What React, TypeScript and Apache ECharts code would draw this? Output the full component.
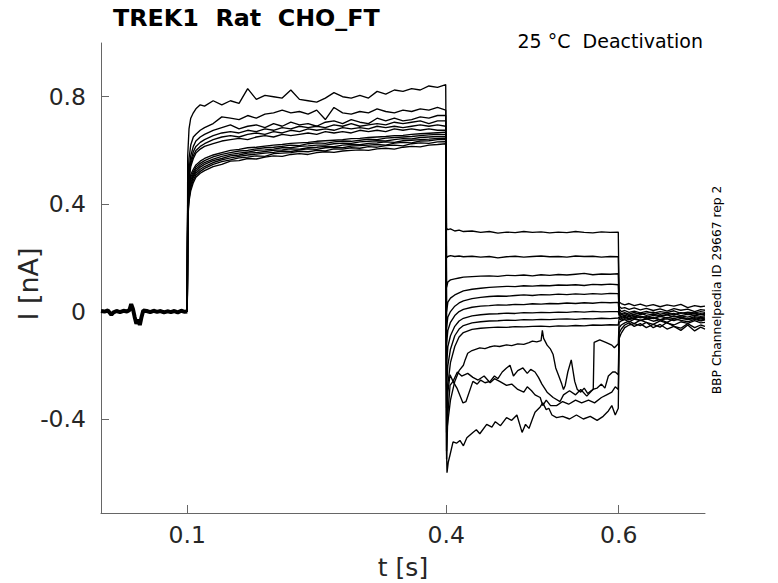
import React, { useEffect, useRef } from 'react';
import * as echarts from 'echarts';

const FONT = '"DejaVu Sans", sans-serif';

// tick positions
const xTicks = [0.1, 0.4, 0.6];
const yTicks = [-0.4, 0, 0.4, 0.8];

// holding period before the step, all sweeps overlap here (t [s], I [nA])
const baseline = [
  [0.0, 0.002], [0.004, 0.0], [0.008, 0.004], [0.012, -0.012], [0.014, -0.004], [0.018, 0.002],
  [0.022, -0.002], [0.026, 0.003], [0.03, 0.0], [0.033, 0.006], [0.035, 0.028], [0.037, 0.01],
  [0.039, -0.02], [0.041, -0.045], [0.043, -0.03], [0.045, -0.05], [0.047, -0.02], [0.049, 0.004],
  [0.053, 0.002], [0.057, -0.002], [0.061, 0.003], [0.065, -0.001], [0.069, 0.002], [0.073, -0.003],
  [0.077, 0.001], [0.081, -0.002], [0.085, 0.002], [0.089, -0.003], [0.093, 0.003], [0.097, -0.001],
  [0.1, 0.0],
];

// activating step 0.1 - 0.4 s
const tOn = [
  0.1, 0.1005, 0.102, 0.104, 0.107, 0.11, 0.115, 0.12, 0.13, 0.14, 0.15, 0.16, 0.17, 0.18, 0.19, 0.2,
  0.21, 0.22, 0.23, 0.24, 0.25, 0.26, 0.27, 0.28, 0.29, 0.3, 0.31, 0.32, 0.33, 0.34, 0.35, 0.36, 0.37,
  0.38, 0.39, 0.3995,
];

const onCurrents = [
  [0, 0.58, 0.68, 0.72, 0.74, 0.755, 0.77, 0.765, 0.785, 0.77, 0.785, 0.775, 0.83, 0.79, 0.805, 0.8, 0.795, 0.825, 0.79, 0.785, 0.78, 0.795, 0.815, 0.8, 0.795, 0.805, 0.795, 0.82, 0.81, 0.825, 0.82, 0.83, 0.825, 0.84, 0.835, 0.845],
  [0, 0.48, 0.57, 0.62, 0.65, 0.66, 0.675, 0.685, 0.7, 0.725, 0.72, 0.715, 0.73, 0.72, 0.735, 0.74, 0.75, 0.74, 0.745, 0.735, 0.75, 0.715, 0.76, 0.74, 0.735, 0.745, 0.74, 0.755, 0.745, 0.74, 0.75, 0.745, 0.755, 0.75, 0.76, 0.75],
  [0, 0.45, 0.53, 0.58, 0.615, 0.635, 0.65, 0.66, 0.675, 0.685, 0.695, 0.68, 0.69, 0.695, 0.685, 0.7, 0.69, 0.705, 0.695, 0.7, 0.69, 0.705, 0.71, 0.7, 0.715, 0.705, 0.7, 0.72, 0.71, 0.72, 0.71, 0.715, 0.725, 0.72, 0.73, 0.73],
  [0, 0.44, 0.51, 0.56, 0.595, 0.615, 0.63, 0.64, 0.655, 0.665, 0.67, 0.665, 0.675, 0.67, 0.68, 0.675, 0.685, 0.68, 0.69, 0.685, 0.69, 0.685, 0.695, 0.69, 0.7, 0.69, 0.695, 0.7, 0.695, 0.705, 0.7, 0.705, 0.71, 0.7, 0.71, 0.71],
  [0, 0.43, 0.5, 0.55, 0.58, 0.6, 0.615, 0.625, 0.64, 0.65, 0.655, 0.65, 0.66, 0.665, 0.66, 0.67, 0.665, 0.675, 0.67, 0.68, 0.675, 0.68, 0.675, 0.685, 0.68, 0.685, 0.68, 0.69, 0.685, 0.69, 0.685, 0.69, 0.695, 0.69, 0.695, 0.69],
  [0, 0.42, 0.49, 0.54, 0.57, 0.59, 0.605, 0.615, 0.625, 0.635, 0.64, 0.645, 0.64, 0.65, 0.655, 0.65, 0.66, 0.655, 0.66, 0.665, 0.66, 0.67, 0.665, 0.67, 0.665, 0.675, 0.67, 0.675, 0.67, 0.68, 0.675, 0.68, 0.675, 0.68, 0.675, 0.675],
  [0, 0.34, 0.41, 0.45, 0.48, 0.5, 0.515, 0.525, 0.54, 0.548, 0.56, 0.562, 0.57, 0.568, 0.575, 0.58, 0.578, 0.585, 0.588, 0.585, 0.592, 0.595, 0.593, 0.598, 0.6, 0.602, 0.6, 0.606, 0.608, 0.605, 0.612, 0.615, 0.613, 0.62, 0.622, 0.625],
  [0, 0.35, 0.42, 0.46, 0.49, 0.508, 0.522, 0.533, 0.548, 0.558, 0.565, 0.572, 0.575, 0.58, 0.578, 0.588, 0.59, 0.592, 0.597, 0.595, 0.6, 0.598, 0.606, 0.605, 0.61, 0.608, 0.614, 0.612, 0.618, 0.62, 0.617, 0.625, 0.628, 0.626, 0.632, 0.633],
  [0, 0.36, 0.43, 0.47, 0.5, 0.515, 0.53, 0.54, 0.555, 0.565, 0.572, 0.578, 0.583, 0.586, 0.59, 0.593, 0.598, 0.596, 0.602, 0.606, 0.604, 0.61, 0.612, 0.61, 0.616, 0.618, 0.62, 0.622, 0.62, 0.627, 0.63, 0.628, 0.635, 0.636, 0.64, 0.64],
  [0, 0.37, 0.44, 0.48, 0.505, 0.522, 0.538, 0.548, 0.562, 0.57, 0.58, 0.583, 0.59, 0.592, 0.596, 0.6, 0.602, 0.606, 0.605, 0.61, 0.612, 0.615, 0.614, 0.62, 0.622, 0.621, 0.626, 0.628, 0.632, 0.63, 0.636, 0.638, 0.64, 0.642, 0.645, 0.646],
  [0, 0.38, 0.45, 0.49, 0.512, 0.53, 0.545, 0.555, 0.568, 0.578, 0.585, 0.59, 0.594, 0.6, 0.602, 0.605, 0.61, 0.61, 0.615, 0.617, 0.62, 0.62, 0.625, 0.627, 0.626, 0.632, 0.634, 0.636, 0.635, 0.64, 0.644, 0.643, 0.648, 0.65, 0.652, 0.652],
  [0, 0.39, 0.46, 0.5, 0.52, 0.538, 0.552, 0.562, 0.576, 0.585, 0.592, 0.598, 0.6, 0.606, 0.61, 0.612, 0.615, 0.62, 0.618, 0.625, 0.628, 0.626, 0.632, 0.635, 0.634, 0.638, 0.642, 0.64, 0.646, 0.648, 0.65, 0.652, 0.655, 0.658, 0.66, 0.66],
  [0, 0.4, 0.47, 0.51, 0.53, 0.546, 0.56, 0.57, 0.583, 0.592, 0.6, 0.604, 0.61, 0.612, 0.616, 0.62, 0.622, 0.626, 0.628, 0.63, 0.634, 0.636, 0.638, 0.64, 0.644, 0.645, 0.648, 0.65, 0.652, 0.655, 0.656, 0.66, 0.662, 0.664, 0.666, 0.668],
];

// test pulses 0.4 - 0.6 s, the nine smooth sweeps
const tTail = [
  0.4005, 0.402, 0.405, 0.41, 0.415, 0.42, 0.43, 0.44, 0.45, 0.46, 0.47, 0.48, 0.49, 0.5, 0.51, 0.52,
  0.53, 0.54, 0.55, 0.56, 0.57, 0.58, 0.59, 0.5995,
];

const tailFlat = [
  [0.31, 0.305, 0.308, 0.3, 0.303, 0.298, 0.3, 0.295, 0.298, 0.292, 0.296, 0.294, 0.298, 0.295, 0.297, 0.293, 0.296, 0.294, 0.298, 0.295, 0.293, 0.297, 0.295, 0.296],
  [0.2, 0.205, 0.208, 0.205, 0.207, 0.204, 0.206, 0.203, 0.205, 0.2, 0.204, 0.206, 0.203, 0.205, 0.207, 0.204, 0.205, 0.203, 0.207, 0.205, 0.206, 0.203, 0.205, 0.204],
  [0.09, 0.11, 0.118, 0.122, 0.125, 0.128, 0.13, 0.132, 0.133, 0.131, 0.135, 0.134, 0.136, 0.133, 0.137, 0.135, 0.138, 0.136, 0.139, 0.142, 0.137, 0.14, 0.139, 0.141],
  [0.0, 0.035, 0.05, 0.062, 0.07, 0.077, 0.083, 0.087, 0.09, 0.092, 0.094, 0.093, 0.096, 0.095, 0.097, 0.096, 0.099, 0.098, 0.1, 0.097, 0.101, 0.1, 0.102, 0.1],
  [-0.06, -0.02, 0.0, 0.02, 0.032, 0.04, 0.048, 0.053, 0.056, 0.058, 0.057, 0.06, 0.062, 0.06, 0.063, 0.062, 0.065, 0.063, 0.066, 0.064, 0.067, 0.065, 0.068, 0.067],
  [-0.12, -0.07, -0.04, -0.015, 0.0, 0.008, 0.016, 0.02, 0.022, 0.025, 0.024, 0.027, 0.026, 0.029, 0.028, 0.03, 0.029, 0.032, 0.03, 0.033, 0.031, 0.034, 0.033, 0.034],
  [-0.2, -0.13, -0.09, -0.055, -0.035, -0.025, -0.016, -0.012, -0.009, -0.008, -0.006, -0.007, -0.004, -0.005, -0.003, -0.004, -0.002, -0.003, 0.0, -0.002, 0.001, -0.001, 0.0, 0.0],
  [-0.28, -0.2, -0.14, -0.09, -0.065, -0.052, -0.042, -0.038, -0.035, -0.034, -0.032, -0.033, -0.03, -0.031, -0.029, -0.03, -0.028, -0.027, -0.029, -0.026, -0.027, -0.025, -0.026, -0.024],
  [-0.36, -0.27, -0.19, -0.13, -0.095, -0.078, -0.066, -0.062, -0.06, -0.058, -0.059, -0.056, -0.057, -0.055, -0.054, -0.056, -0.053, -0.054, -0.052, -0.053, -0.05, -0.051, -0.049, -0.05],
];

// the four noisy inward sweeps, read point by point
const tailA = [
  [0.4005, -0.45], [0.405, -0.33], [0.41, -0.26], [0.415, -0.22], [0.42, -0.2], [0.422, -0.18],
  [0.425, -0.155], [0.43, -0.145], [0.439, -0.135], [0.445, -0.138], [0.45, -0.132], [0.456, -0.128],
  [0.462, -0.13], [0.47, -0.124], [0.476, -0.127], [0.483, -0.12], [0.49, -0.122], [0.496, -0.116],
  [0.5, -0.11], [0.505, -0.113], [0.51, -0.108], [0.5115, -0.07], [0.513, -0.1], [0.517, -0.125],
  [0.521, -0.14], [0.524, -0.16], [0.527, -0.21], [0.53, -0.235], [0.534, -0.27], [0.536, -0.29],
  [0.538, -0.275], [0.541, -0.225], [0.545, -0.18], [0.547, -0.22], [0.549, -0.26], [0.552, -0.29],
  [0.556, -0.3], [0.56, -0.285], [0.564, -0.305], [0.568, -0.295], [0.5705, -0.29], [0.5715, -0.115],
  [0.578, -0.105], [0.585, -0.115], [0.592, -0.125], [0.595, -0.135], [0.5995, -0.12],
];

const tailB = [
  [0.4005, -0.52], [0.402, -0.3], [0.4045, -0.235], [0.408, -0.26], [0.4125, -0.285], [0.4195, -0.34],
  [0.423, -0.335], [0.431, -0.26], [0.436, -0.27], [0.44, -0.255], [0.445, -0.265], [0.451, -0.26],
  [0.456, -0.24], [0.46, -0.25], [0.465, -0.225], [0.47, -0.21], [0.474, -0.2], [0.478, -0.24],
  [0.483, -0.22], [0.489, -0.21], [0.494, -0.23], [0.498, -0.215], [0.503, -0.225], [0.507, -0.245],
  [0.511, -0.27], [0.517, -0.3], [0.524, -0.32], [0.532, -0.335], [0.536, -0.31], [0.543, -0.295],
  [0.55, -0.31], [0.556, -0.29], [0.563, -0.315], [0.57, -0.29], [0.575, -0.285], [0.58, -0.27],
  [0.584, -0.285], [0.588, -0.24], [0.593, -0.225], [0.596, -0.225], [0.5995, -0.235],
];

const tailC = [
  [0.4005, -0.55], [0.402, -0.38], [0.4045, -0.275], [0.408, -0.26], [0.413, -0.225], [0.418, -0.24],
  [0.425, -0.23], [0.431, -0.245], [0.437, -0.255], [0.444, -0.24], [0.451, -0.265], [0.456, -0.25],
  [0.462, -0.26], [0.47, -0.275], [0.476, -0.27], [0.483, -0.29], [0.49, -0.3], [0.494, -0.28],
  [0.499, -0.295], [0.503, -0.31], [0.509, -0.32], [0.512, -0.35], [0.516, -0.33], [0.521, -0.35],
  [0.528, -0.35], [0.535, -0.335], [0.542, -0.345], [0.55, -0.33], [0.557, -0.34], [0.565, -0.33],
  [0.572, -0.34], [0.58, -0.32], [0.586, -0.31], [0.592, -0.3], [0.596, -0.28], [0.5995, -0.29],
];

const tailD = [
  [0.4005, -0.52], [0.401, -0.6], [0.4025, -0.56], [0.4044, -0.535], [0.408, -0.485], [0.412, -0.49],
  [0.416, -0.48], [0.42, -0.5], [0.424, -0.47], [0.431, -0.45], [0.435, -0.44], [0.439, -0.455],
  [0.447, -0.42], [0.453, -0.43], [0.457, -0.41], [0.463, -0.425], [0.47, -0.395], [0.476, -0.405],
  [0.482, -0.385], [0.488, -0.45], [0.492, -0.42], [0.496, -0.435], [0.5, -0.4], [0.503, -0.375],
  [0.509, -0.355], [0.512, -0.34], [0.516, -0.365], [0.519, -0.36], [0.5226, -0.385], [0.528, -0.395],
  [0.535, -0.39], [0.543, -0.4], [0.551, -0.385], [0.559, -0.4], [0.567, -0.39], [0.575, -0.405],
  [0.582, -0.39], [0.588, -0.37], [0.592, -0.35], [0.596, -0.385], [0.5995, -0.36],
];

const tailNoisy = [tailA, tailB, tailC, tailD];

// return to holding, 0.6 - 0.7 s
const tOff = [
  0.6005, 0.603, 0.607, 0.612, 0.618, 0.625, 0.632, 0.64, 0.648, 0.656, 0.664, 0.672, 0.68, 0.688,
  0.695, 0.7,
];

const offCurrents = [
  [0.035, 0.03, 0.025, 0.03, 0.022, 0.028, 0.02, 0.026, 0.018, 0.025, 0.02, 0.027, 0.015, 0.022, 0.018, 0.02],
  [0.02, 0.012, 0.015, 0.008, 0.014, 0.006, 0.012, 0.004, 0.01, 0.002, 0.011, 0.005, 0.009, 0.0, 0.007, 0.005],
  [0.01, 0.0, 0.004, -0.003, 0.002, -0.005, 0.001, -0.006, 0.0, -0.004, 0.003, -0.007, -0.002, -0.005, 0.0, -0.003],
  [0.0, -0.008, -0.004, -0.01, -0.003, -0.011, -0.006, -0.002, -0.01, -0.005, -0.012, -0.004, -0.009, -0.006, -0.011, -0.007],
  [-0.005, -0.012, -0.008, -0.015, -0.01, -0.006, -0.014, -0.009, -0.016, -0.011, -0.007, -0.015, -0.01, -0.013, -0.008, -0.012],
  [-0.01, -0.018, -0.013, -0.02, -0.012, -0.017, -0.022, -0.014, -0.019, -0.012, -0.02, -0.016, -0.021, -0.013, -0.018, -0.015],
  [-0.015, -0.022, -0.018, -0.025, -0.017, -0.023, -0.019, -0.026, -0.018, -0.024, -0.016, -0.022, -0.027, -0.019, -0.023, -0.02],
  [-0.02, -0.026, -0.021, -0.028, -0.023, -0.019, -0.027, -0.024, -0.03, -0.022, -0.026, -0.02, -0.028, -0.023, -0.027, -0.024],
  [-0.025, -0.032, -0.026, -0.03, -0.024, -0.033, -0.028, -0.022, -0.031, -0.027, -0.034, -0.025, -0.03, -0.026, -0.032, -0.028],
  [-0.04, -0.035, -0.03, -0.038, -0.028, -0.034, -0.026, -0.036, -0.03, -0.04, -0.027, -0.033, -0.038, -0.029, -0.035, -0.031],
  [-0.06, -0.05, -0.042, -0.036, -0.045, -0.032, -0.04, -0.048, -0.035, -0.043, -0.05, -0.038, -0.044, -0.034, -0.042, -0.04],
  [-0.08, -0.065, -0.05, -0.042, -0.055, -0.045, -0.06, -0.048, -0.058, -0.04, -0.055, -0.062, -0.045, -0.06, -0.05, -0.055],
  [-0.1, -0.08, -0.06, -0.05, -0.045, -0.052, -0.04, -0.06, -0.048, -0.065, -0.055, -0.07, -0.05, -0.072, -0.058, -0.065],
];

function buildTrace(i: number): number[][] {
  const on = tOn.map((t, k) => [t, onCurrents[i][k]]);
  const tail =
    i < tailFlat.length
      ? tTail.map((t, k) => [t, tailFlat[i][k]])
      : tailNoisy[i - tailFlat.length];
  const off = tOff.map((t, k) => [t, offCurrents[i][k]]);
  return [...on, ...tail, ...off];
}

const AXIS_GREY = '#666666';
const LABEL_GREY = '#262626';

export default function App() {
  const chartRef = useRef<HTMLDivElement>(null);

  useEffect(() => {
    if (!chartRef.current) return;

    const chart = echarts.init(chartRef.current, undefined, { renderer: 'svg' });

    const traces = onCurrents.map((_, i) => ({
      type: 'line',
      data: buildTrace(i),
      symbol: 'none',
      showSymbol: false,
      silent: true,
      lineStyle: { color: '#000', width: 1.35 },
    }));

    const option = {
      animation: false,
      backgroundColor: '#fff',
      grid: { left: 101, right: 73, top: 43, bottom: 70 },
      xAxis: {
        type: 'value',
        min: 0,
        max: 0.7,
        axisLine: { show: true, onZero: false, lineStyle: { color: AXIS_GREY, width: 1 } },
        axisTick: { show: true, inside: true, length: 8, customValues: xTicks, lineStyle: { color: AXIS_GREY } },
        axisLabel: { customValues: xTicks, fontSize: 23.5, fontFamily: FONT, color: LABEL_GREY, margin: 10 },
        splitLine: { show: false },
      },
      yAxis: {
        type: 'value',
        min: -0.75,
        max: 1.0,
        axisLine: { show: true, onZero: false, lineStyle: { color: AXIS_GREY, width: 1 } },
        axisTick: { show: true, inside: true, length: 8, customValues: yTicks, lineStyle: { color: AXIS_GREY } },
        axisLabel: {
          customValues: yTicks,
          fontSize: 23.5,
          fontFamily: FONT,
          color: LABEL_GREY,
          margin: 15,
          formatter: (v: number) => String(v),
        },
        splitLine: { show: false },
      },
      graphic: [
        {
          type: 'text',
          x: 113,
          y: 18,
          style: { text: 'TREK1  Rat  CHO_FT', font: `bold 23.8px ${FONT}`, fill: '#000', align: 'left', verticalAlign: 'middle' },
        },
        {
          type: 'text',
          x: 703,
          y: 41,
          style: { text: '25 °C  Deactivation', font: `19px ${FONT}`, fill: '#000', align: 'right', verticalAlign: 'middle' },
        },
        {
          type: 'text',
          x: 717,
          y: 290,
          rotation: Math.PI / 2,
          style: { text: 'BBP Channelpedia ID 29667 rep 2', font: `12.3px ${FONT}`, fill: '#000', align: 'center', verticalAlign: 'middle' },
        },
        {
          type: 'text',
          x: 28,
          y: 284,
          rotation: Math.PI / 2,
          style: { text: 'I [nA]', font: `27px ${FONT}`, fill: LABEL_GREY, align: 'center', verticalAlign: 'middle' },
        },
        {
          type: 'text',
          x: 403,
          y: 567,
          style: { text: 't [s]', font: `25px ${FONT}`, fill: LABEL_GREY, align: 'center', verticalAlign: 'middle' },
        },
      ],
      series: [
        {
          type: 'line',
          data: baseline,
          symbol: 'none',
          showSymbol: false,
          silent: true,
          lineStyle: { color: '#000', width: 4 },
        },
        ...traces,
      ],
    };

    chart.setOption(option as any);

    return () => {
      chart.dispose();
    };
  }, []);

  return (
    <div
      ref={chartRef}
      style={{ position: 'fixed', left: 0, top: 0, width: 778, height: 583, background: '#fff' }}
    />
  );
}
